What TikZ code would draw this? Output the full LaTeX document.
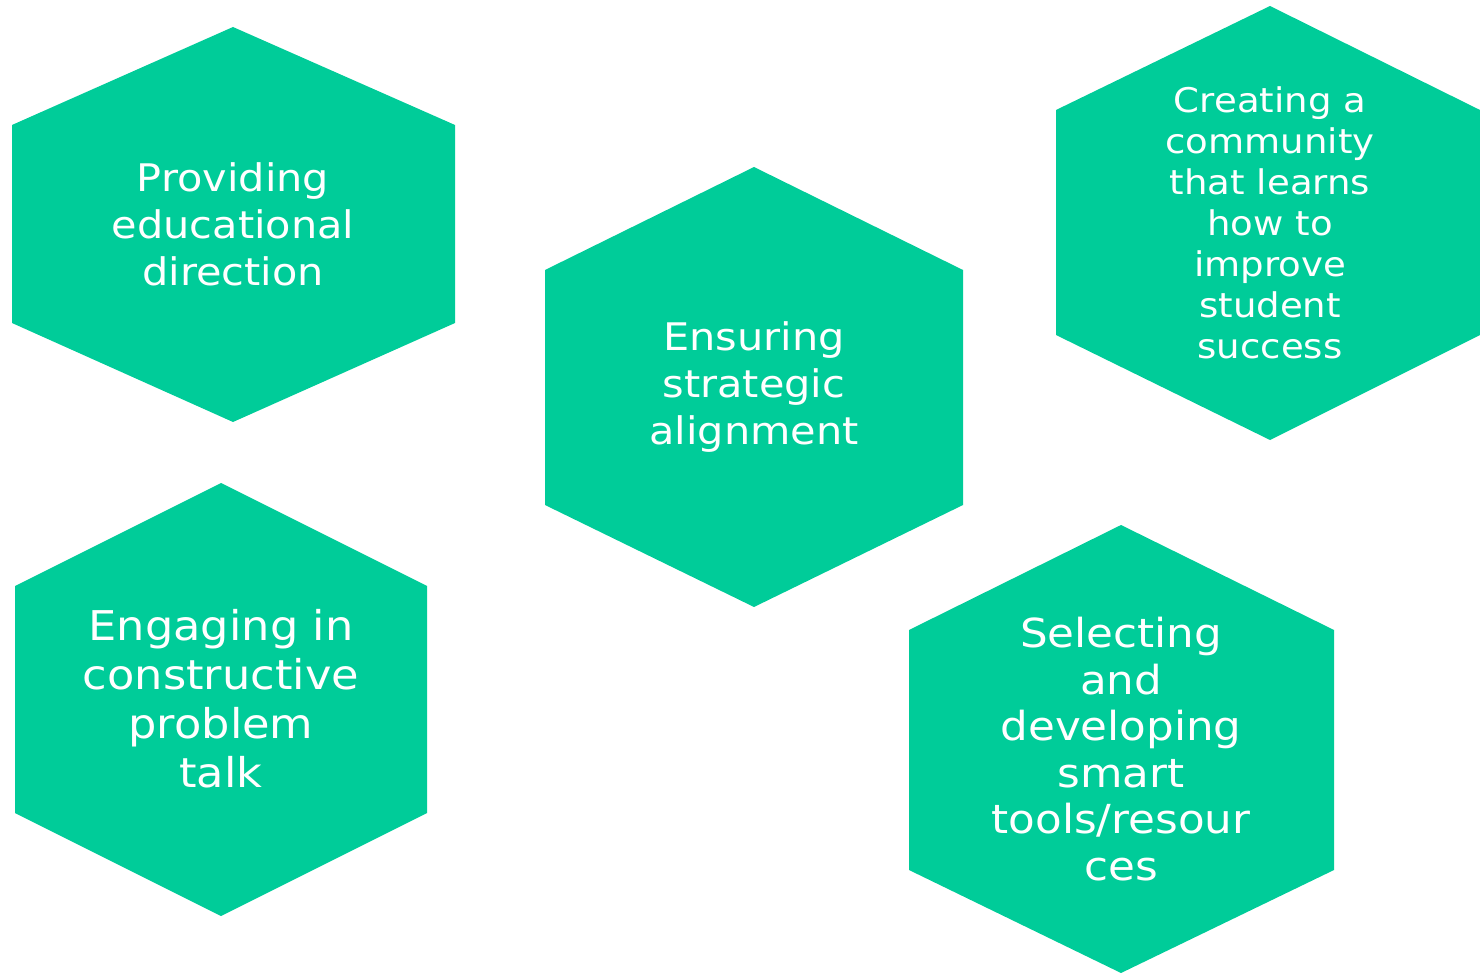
\documentclass[tikz,border=0pt]{standalone}
\usepackage{fontspec}
\setmainfont[FakeStretch=1.09]{DejaVu Sans}
\usetikzlibrary{positioning}
\definecolor{hexgreen}{HTML}{00CC99}
\tikzstyle{hexa} = [fill=hexgreen, draw=none]
\tikzstyle{label} = [text=white, align=center, inner sep=0pt, font=\fontsize{38}{47}\selectfont]
\tikzstyle{smalllabel} = [label, font=\fontsize{34}{41}\selectfont]

\begin{document}
\begin{tikzpicture}[x=1pt,y=-1pt]
			\useasboundingbox (0,0) rectangle (1480,973);
			% hexagons
			\fill [hexa] (233,27) -- (455,125) -- (455,323) -- (233,422) -- (12,323) -- (12,125) -- cycle;
			\fill [hexa] (754,167) -- (963,270) -- (963,505) -- (754,607) -- (545,505) -- (545,270) -- cycle;
			\fill [hexa] (1270,6) -- (1480,110) -- (1480,335) -- (1270,440) -- (1056,335) -- (1056,110) -- cycle;
			\fill [hexa] (221,483) -- (427,586) -- (427,813) -- (221,916) -- (15,813) -- (15,586) -- cycle;
			\fill [hexa] (1121,525) -- (1334,630) -- (1334,870) -- (1121,973) -- (909,870) -- (909,630) -- cycle;

			% texts
			\node (direction) [label] at (233,224) {Providing\\educational\\direction};
			\node (alignment) [label] at (754,387) {Ensuring\\strategic\\alignment};
			\node (community) [smalllabel] at (1270,223) {Creating a\\community\\that learns\\how to\\improve\\student\\success};
			\node (problemtalk) [label, font=\fontsize{41}{49}\selectfont] at (221,699) {Engaging in\\constructive\\problem\\talk};
			\node (tools) [label, font=\fontsize{40}{46.6}\selectfont] at (1121,749) {Selecting\\and\\developing\\smart\\tools/resour\\ces};
\end{tikzpicture}
\end{document}
